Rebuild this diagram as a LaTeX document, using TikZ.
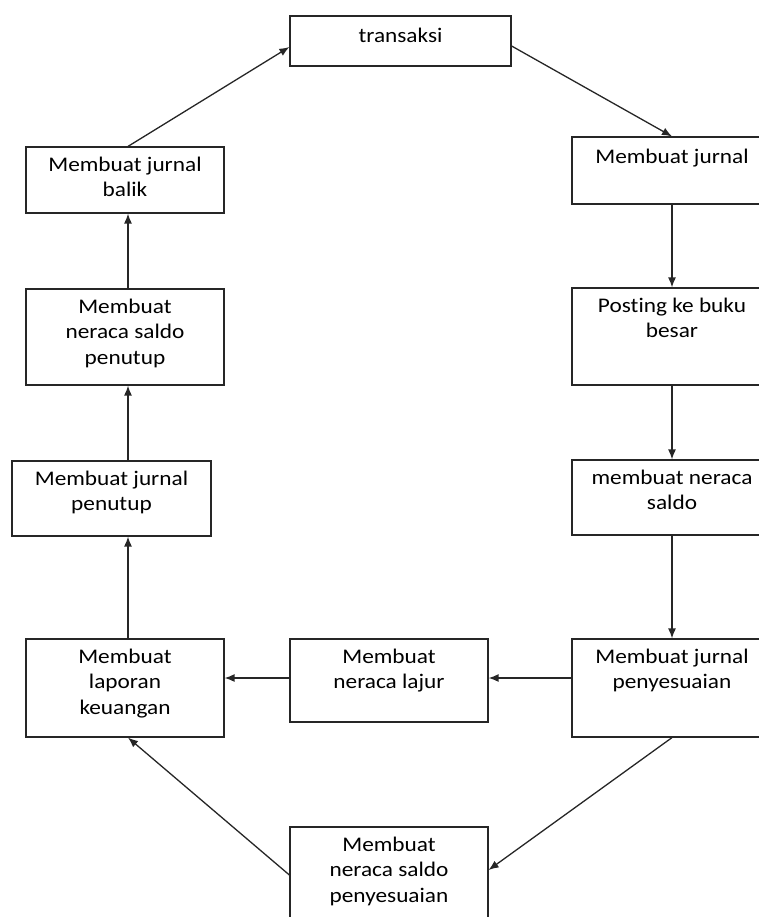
\documentclass[tikz,border=0pt]{standalone}
\usepackage{fontspec}
\setmainfont{Carlito}[FakeStretch=1.12, Ligatures={NoCommon,NoRare,NoContextual}]
\usetikzlibrary{arrows.meta,calc}
\tikzset{
  box/.style={draw=black!85, line width=1.2pt, rectangle, inner sep=0pt, fill=white},
  txt/.style={align=center, inner sep=0pt, anchor=north, yshift=-10pt,
    font=\fontsize{20.8}{25.5}\selectfont, text=black,
    execute at begin node={\rule{0pt}{17pt}}},
  arr/.style={draw=black!85, line width=1.3pt, -{Latex[length=10pt,width=8pt]}}
}
\begin{document}
\begin{tikzpicture}[x=1pt,y=-1pt]
\useasboundingbox (0,0) rectangle (759,917);
% boxes
\node[box, minimum width=221pt, minimum height=50pt] (trans) at (400.5,41) {};
\node[box, minimum width=200pt, minimum height=67pt] (jur) at (672,170.5) {};
\node[box, minimum width=200pt, minimum height=97pt] (post) at (672,336.5) {};
\node[box, minimum width=200pt, minimum height=75pt] (nsal) at (672,497.5) {};
\node[box, minimum width=200pt, minimum height=98pt] (jpeny) at (672,688) {};
\node[box, minimum width=198pt, minimum height=83pt] (lajur) at (389,680.5) {};
\node[box, minimum width=198pt, minimum height=98pt] (lap) at (125,688) {};
\node[box, minimum width=198pt, minimum height=113pt] (nspeny) at (389,883.5) {};
\node[box, minimum width=199pt, minimum height=75pt] (jpen) at (111.5,498.5) {};
\node[box, minimum width=198pt, minimum height=96pt] (nspen) at (125,337) {};
\node[box, minimum width=198pt, minimum height=66pt] (balik) at (125,180) {};
% texts
\node[txt] (transT) at (trans.north) {transaksi};
\node[txt] (jurT) at (jur.north) {Membuat jurnal};
\node[txt] (postT) at (post.north) {Posting ke buku\\besar};
\node[txt] (nsalT) at (nsal.north) {membuat neraca\\saldo};
\node[txt] (jpenyT) at (jpeny.north) {Membuat jurnal\\penyesuaian};
\node[txt] (lajurT) at (lajur.north) {Membuat\\neraca lajur};
\node[txt] (lapT) at (lap.north) {Membuat\\laporan\\keuangan};
\node[txt] (nspenyT) at (nspeny.north) {Membuat\\neraca saldo\\penyesuaian};
\node[txt] (jpenT) at (jpen.north) {Membuat jurnal\\penutup};
\node[txt] (nspenT) at (nspen.north) {Membuat\\neraca saldo\\penutup};
\node[txt] (balikT) at (balik.north) {Membuat jurnal\\balik};
% helper coordinates
\coordinate (cl) at (128,0);
\coordinate (ym) at (0,678);
\coordinate (yp) at (0,870);
\coordinate (yq) at (0,875);
\coordinate (yt1) at (0,47);
\coordinate (yt2) at (0,46);
% connectors
\draw[arr] (balik.north -| cl) -- (trans.west |- yt1);
\draw[arr] (trans.east |- yt2) -- (jur.north);
\draw[arr] (jur.south) -- (post.north);
\draw[arr] (post.south) -- (nsal.north);
\draw[arr] (nsal.south) -- (jpeny.north);
\draw[arr] (jpeny.west |- ym) -- (lajur.east |- ym);
\draw[arr] (lajur.west |- ym) -- (lap.east |- ym);
\draw[arr] (jpeny.south) -- (nspeny.east |- yp);
\draw[arr] (nspeny.west |- yq) -- (lap.south -| cl);
\draw[arr] (lap.north -| cl) -- (jpen.south -| cl);
\draw[arr] (jpen.north -| cl) -- (nspen.south -| cl);
\draw[arr] (nspen.north -| cl) -- (balik.south -| cl);
\end{tikzpicture}
\end{document}
